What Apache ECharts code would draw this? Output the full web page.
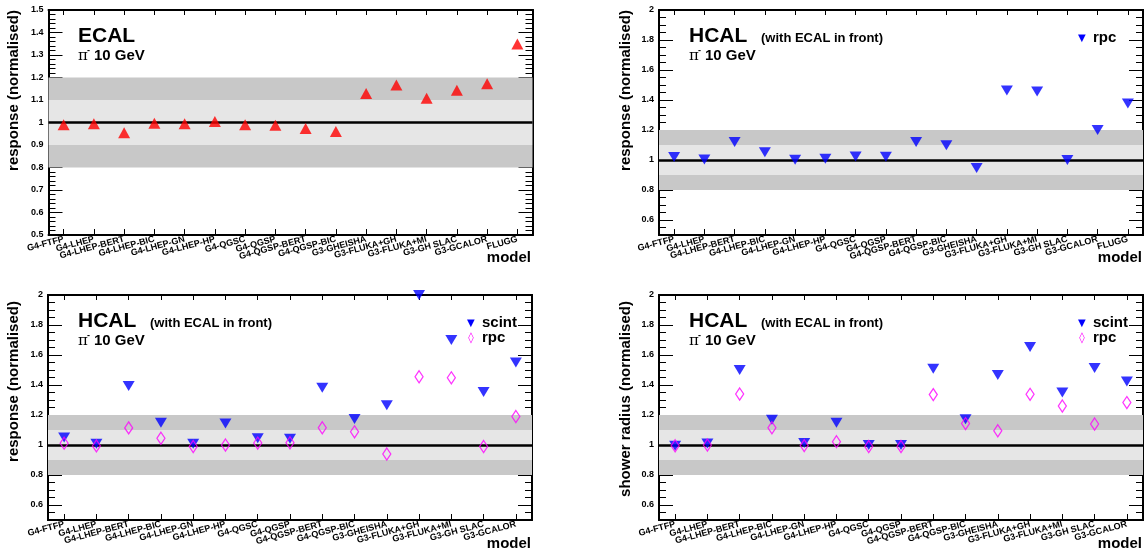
<!DOCTYPE html>
<html>
<head>
<meta charset="utf-8">
<script src="https://cdn.jsdelivr.net/npm/echarts@6/dist/echarts.min.js"></script>
<style>html,body{margin:0;padding:0;background:#fff;}#wrap{position:relative;width:1146px;height:557px;background:#fff;}.c{position:absolute;left:0;top:0;width:1146px;height:557px;}</style>
</head>
<body>
<div id="wrap"><div class="c" id="p0"></div><div class="c" id="p1"></div><div class="c" id="p2"></div><div class="c" id="p3"></div></div>
<script>
// ---------- data ----------
const modelsEcal = ['G4-FTFP','G4-LHEP','G4-LHEP-BERT','G4-LHEP-BIC','G4-LHEP-GN','G4-LHEP-HP','G4-QGSC','G4-QGSP','G4-QGSP-BERT','G4-QGSP-BIC','G3-GHEISHA','G3-FLUKA+GH','G3-FLUKA+MI','G3-GH SLAC','G3-GCALOR','FLUGG'];
const modelsHcal = ['G4-FTFP','G4-LHEP','G4-LHEP-BERT','G4-LHEP-BIC','G4-LHEP-GN','G4-LHEP-HP','G4-QGSC','G4-QGSP','G4-QGSP-BERT','G4-QGSP-BIC','G3-GHEISHA','G3-FLUKA+GH','G3-FLUKA+MI','G3-GH SLAC','G3-GCALOR'];

const ecalResponse   = [0.99, 0.995, 0.955, 0.997, 0.995, 1.004, 0.99, 0.988, 0.973, 0.96, 1.129, 1.167, 1.108, 1.143, 1.172, 1.349];
const hcalRpcResp16  = [1.02, 1.004, 1.12, 1.051, 1.002, 1.008, 1.024, 1.022, 1.12, 1.098, 0.947, 1.463, 1.457, 1.0, 1.2, 1.377];
const hcalScintResp  = [1.05, 1.008, 1.393, 1.148, 1.008, 1.143, 1.045, 1.042, 1.382, 1.174, 1.265, 2.0, 1.70, 1.353, 1.55];
const hcalRpcResp    = [1.012, 0.994, 1.114, 1.045, 0.99, 1.0, 1.013, 1.015, 1.115, 1.088, 0.94, 1.455, 1.448, 0.99, 1.19];
const hcalScintRad   = [0.995, 1.01, 1.50, 1.168, 1.013, 1.148, 1.0, 1.0, 1.508, 1.172, 1.466, 1.653, 1.35, 1.514, 1.424];
const hcalRpcRad     = [0.995, 1.0, 1.34, 1.115, 0.996, 1.022, 0.99, 0.99, 1.336, 1.143, 1.095, 1.338, 1.26, 1.14, 1.283];

const ecalTicks = [0.5, 0.6, 0.7, 0.8, 0.9, 1.0, 1.1, 1.2, 1.3, 1.4, 1.5];
const hcalTicks = [0.6, 0.8, 1.0, 1.2, 1.4, 1.6, 1.8, 2.0];
const ecalMinorStep = 0.02;
const hcalMinorStep = 0.05;
const bandOuter = [[0.8, 0.9], [1.1, 1.2]];
const bandInner = [0.9, 1.1];
const refLine = 1.0;

// ---------- styling ----------
const F = '"Liberation Sans", Arial, Helvetica, sans-serif';
const DARK = '#c8c8c8', LIGHT = '#e6e6e6';
const RED = '#ff0000', BLUE = '#0000ff', MAG = '#ff00ff';
const AXLINE = {show: true, onZero: false, lineStyle: {color: '#000', width: 2}};

function newPanel(box, cats, ymin, ymax, majors, minorStep, yName, nameGap, namePad) {
  const P = {xAxes: [], yAxes: [], series: [], titles: [],
    grid: [{left: box[0], top: box[1], width: box[2], height: box[3], show: false, containLabel: false}]};
  const xCommon = {type: 'category', gridIndex: 0, data: cats, boundaryGap: true, axisLine: AXLINE, splitLine: {show: false}};
  P.xAxes.push(Object.assign({}, xCommon, {position: 'bottom',
    axisTick: {show: true, inside: true, alignWithLabel: true, interval: 0, length: 6, lineStyle: {color: '#000', width: 1}},
    axisLabel: {interval: 0, rotate: 15, fontSize: 9, fontWeight: 'bold', fontFamily: F, color: '#000', margin: 4}}));
  P.xAxes.push(Object.assign({}, xCommon, {position: 'top',
    axisTick: {show: true, inside: true, alignWithLabel: true, interval: 0, length: 5, lineStyle: {color: '#000', width: 1}},
    axisLabel: {show: false}}));
  ['left', 'right'].forEach(pos => {
    const major = {type: 'value', gridIndex: 0, position: pos, min: ymin, max: ymax, axisLine: AXLINE, splitLine: {show: false},
      axisTick: {show: true, inside: true, length: 14, customValues: majors, lineStyle: {color: '#000', width: 1}},
      axisLabel: pos === 'left' ? {show: true, customValues: majors, fontSize: 9, fontWeight: 'bold', fontFamily: F, color: '#000', margin: 5} : {show: false}};
    if (pos === 'left') {
      major.name = yName; major.nameLocation = 'middle'; major.nameGap = nameGap;
      major.nameTextStyle = {fontSize: 15, fontWeight: 'bold', fontFamily: F, color: '#000', padding: [0, 0, 0, namePad]};
    }
    P.yAxes.push(major);
    // minor ticks: interval-based axis (min is a multiple of the step)
    P.yAxes.push({type: 'value', gridIndex: 0, position: pos, min: ymin, max: ymax, interval: minorStep,
      axisLine: AXLINE, splitLine: {show: false},
      axisTick: {show: true, inside: true, length: 7, lineStyle: {color: '#000', width: 1}},
      axisLabel: {show: false}});
  });
  P.series.push({type: 'scatter', name: 'bands', xAxisIndex: 0, yAxisIndex: 0, data: [], z: 1, silent: true,
    markArea: {silent: true, z: 1, label: {show: false},
      data: [
        [{yAxis: bandInner[0], itemStyle: {color: LIGHT}}, {yAxis: bandInner[1]}],
        [{yAxis: bandOuter[0][0], itemStyle: {color: DARK}}, {yAxis: bandOuter[0][1]}],
        [{yAxis: bandOuter[1][0], itemStyle: {color: DARK}}, {yAxis: bandOuter[1][1]}]
      ]},
    markLine: {silent: true, z: 2, symbol: 'none', label: {show: false},
      lineStyle: {color: '#000', width: 2.5, type: 'solid'},
      data: [{yAxis: refLine}]}
  });
  return P;
}

function addScatter(P, name, data, kind) {
  const s = {type: 'scatter', name: name, xAxisIndex: 0, yAxisIndex: 0, data: data, clip: false, silent: true, z: 6};
  if (kind === 'up') { s.symbol = 'triangle'; s.symbolSize = [12, 11]; s.itemStyle = {color: RED}; }
  if (kind === 'down') { s.symbol = 'triangle'; s.symbolRotate = 180; s.symbolSize = [12, 10]; s.itemStyle = {color: BLUE}; }
  if (kind === 'diamond') { s.symbol = 'diamond'; s.symbolSize = [8, 12]; s.z = 7;
    s.itemStyle = {color: 'rgba(0,0,0,0)', borderColor: MAG, borderWidth: 1.3}; }
  P.series.push(s);
}

function txt(P, str, size, pos, extra) {
  const ts = Object.assign({fontSize: size, fontWeight: 'bold', fontFamily: F, color: '#000'}, extra || {});
  P.titles.push(Object.assign({text: str, padding: 0, itemGap: 0, textStyle: ts}, pos));
}

function labels(P, x0, yMid, yPiMid, subtitle, subX, subMid) {
  txt(P, subtitle ? 'HCAL' : 'ECAL', 21, {left: x0, top: yMid - 10.5});
  if (subtitle) txt(P, subtitle, 13, {left: subX, top: subMid - 6.5});
  txt(P, 'π', 15, {left: x0, top: yPiMid - 7.5}, {fontWeight: 'normal', fontFamily: '"DejaVu Serif", "Liberation Serif", serif'});
  txt(P, '-', 9, {left: x0 + 9, top: yPiMid - 9.5});
  txt(P, '10 GeV', 15, {left: x0 + 16, top: yPiMid - 7.5});
}

function legendItem(P, x, yMid, kind, label) {
  if (kind === 'down') txt(P, '▼', 10, {left: x - 4, top: yMid - 5}, {fontWeight: 'normal', color: BLUE, fontFamily: '"DejaVu Sans", sans-serif'});
  else txt(P, '◊', 11, {left: x - 2.8, top: yMid - 5.5}, {fontWeight: 'normal', color: MAG, fontFamily: '"DejaVu Sans", sans-serif'});
  txt(P, label, 15, {left: x + 11, top: yMid - 7.5});
}

function render(id, P) {
  const chart = echarts.init(document.getElementById(id));
  chart.setOption({
    animation: false, backgroundColor: 'transparent', tooltip: {show: false},
    title: P.titles, grid: P.grid, xAxis: P.xAxes, yAxis: P.yAxes, series: P.series
  });
}

// Panel 0: ECAL
const P0 = newPanel([48.5, 10, 484, 225], modelsEcal, 0.5, 1.5, ecalTicks, ecalMinorStep, 'response (normalised)', 27, 64);
addScatter(P0, 'ECAL', ecalResponse, 'up');
labels(P0, 78, 36, 56, null);
txt(P0, 'model', 15, {right: 615, top: 250.5});
render('p0', P0);

// Panel 1: HCAL rpc response
const P1 = newPanel([659, 10, 484, 225], modelsEcal, 0.5, 2.0, hcalTicks, hcalMinorStep, 'response (normalised)', 25.5, 64);
addScatter(P1, 'rpc', hcalRpcResp16, 'down');
labels(P1, 689, 36, 56, '(with ECAL in front)', 761, 38.5);
txt(P1, 'model', 15, {right: 4, top: 250.5});
legendItem(P1, 1082, 38, 'down', 'rpc');
render('p1', P1);

// Panel 2: HCAL scint/rpc response
const P2 = newPanel([48, 295, 484, 225], modelsHcal, 0.5, 2.0, hcalTicks, hcalMinorStep, 'response (normalised)', 26.5, 52);
addScatter(P2, 'scint', hcalScintResp, 'down');
addScatter(P2, 'rpc', hcalRpcResp, 'diamond');
labels(P2, 78, 321, 341, '(with ECAL in front)', 150, 323.5);
txt(P2, 'model', 15, {right: 615, top: 536.5});
legendItem(P2, 471, 323, 'down', 'scint');
legendItem(P2, 471, 338, 'diamond', 'rpc');
render('p2', P2);

// Panel 3: HCAL shower radius
const P3 = newPanel([659, 295, 484, 225], modelsHcal, 0.5, 2.0, hcalTicks, hcalMinorStep, 'shower radius (normalised)', 25.5, 17);
addScatter(P3, 'scint', hcalScintRad, 'down');
addScatter(P3, 'rpc', hcalRpcRad, 'diamond');
labels(P3, 689, 321, 341, '(with ECAL in front)', 761, 323.5);
txt(P3, 'model', 15, {right: 4, top: 536.5});
legendItem(P3, 1082, 323, 'down', 'scint');
legendItem(P3, 1082, 338, 'diamond', 'rpc');
render('p3', P3);
</script>
</body>
</html>
